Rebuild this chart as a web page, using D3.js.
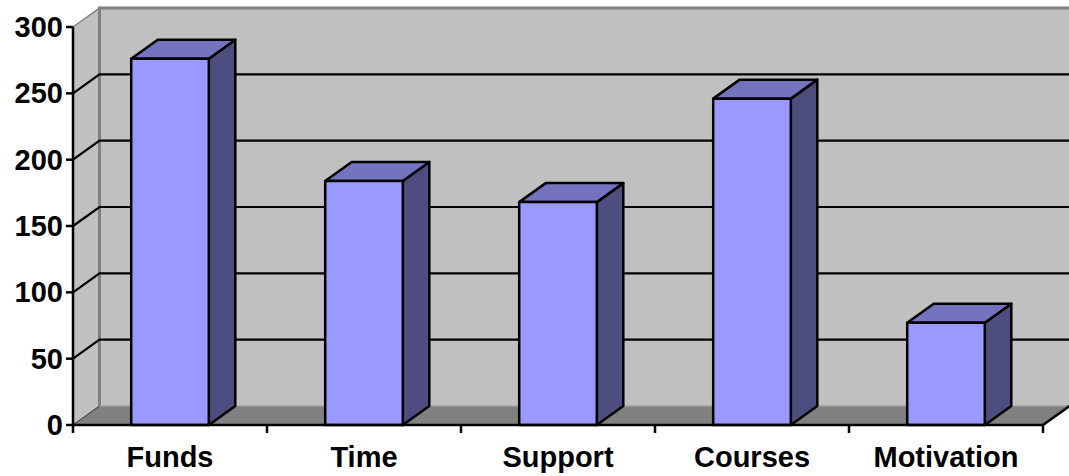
<!DOCTYPE html>
<html>
<head>
<meta charset="utf-8">
<script src="https://cdn.jsdelivr.net/npm/d3@7/dist/d3.min.js"></script>
<style>
  html, body { margin: 0; padding: 0; background: #ffffff; }
  svg { display: block; }
  text { font-family: "Liberation Sans", Arial, sans-serif; font-weight: bold; fill: #000; }
</style>
</head>
<body>
<svg id="chart" width="1069" height="476"></svg>
<script>
// Survey totals per barrier category
const categories = ["Funds", "Time", "Support", "Courses", "Motivation"];
const values = [276, 184, 168, 246, 77];
const yTicks = [0, 50, 100, 150, 200, 250, 300];

const plotLeft = 73, plotRight = 1043, plotBottom = 425, plotTop = 27;
const DX = 26.5, DY = -19;   // depth offset of the 3D box

const svg = d3.select("#chart");

const x = d3.scaleBand()
  .domain(categories)
  .range([plotLeft, plotRight])
  .paddingInner(0.6)
  .paddingOuter(0.3);

const y = d3.scaleLinear().domain([0, 300]).range([plotBottom, plotTop]);

const pts = a => a.map(p => p.join(",")).join(" ");

// Side wall (left)
svg.append("polygon")
  .attr("points", pts([[plotLeft, y(300)], [plotLeft + DX, y(300) + DY], [plotLeft + DX, y(0) + DY], [plotLeft, y(0)]]))
  .attr("fill", "#c0c0c0")
  .attr("stroke", "#808080")
  .attr("stroke-width", 1.5);

// Back wall
svg.append("rect")
  .attr("x", plotLeft + DX)
  .attr("y", y(300) + DY)
  .attr("width", plotRight - plotLeft)
  .attr("height", y(0) - y(300))
  .attr("fill", "#c0c0c0");
svg.append("path")
  .attr("d", `M${plotLeft + DX},${y(0) + DY} V${y(300) + DY} H${plotRight + DX}`)
  .attr("fill", "none")
  .attr("stroke", "#808080")
  .attr("stroke-width", 3);

// Floor
svg.append("polygon")
  .attr("points", pts([[plotLeft, y(0)], [plotRight, y(0)], [plotRight + DX, y(0) + DY], [plotLeft + DX, y(0) + DY]]))
  .attr("fill", "#808080");
svg.append("line")
  .attr("x1", plotLeft + DX).attr("x2", plotRight + DX)
  .attr("y1", y(0) + DY).attr("y2", y(0) + DY)
  .attr("stroke", "#a0a0a0").attr("stroke-width", 1.5);

// Gridlines: diagonal across the side wall, then along the back wall
const grid = svg.append("g").attr("fill", "none");
yTicks.filter(v => v > 0 && v < 300).forEach(v => {
  grid.append("path")
    .attr("d", `M${plotLeft},${y(v)} L${plotLeft + DX},${y(v) + DY} H${plotRight + DX}`)
    .attr("stroke", "#000")
    .attr("stroke-width", 2.2);
});
grid.append("line")
  .attr("x1", plotLeft).attr("y1", y(0))
  .attr("x2", plotLeft + DX).attr("y2", y(0) + DY)
  .attr("stroke", "#404040").attr("stroke-width", 1);

// Bars
const bars = svg.append("g")
  .selectAll("g")
  .data(categories.map((c, i) => ({ c, v: values[i] })))
  .join("g")
  .attr("stroke", "#000")
  .attr("stroke-width", 2.5)
  .attr("stroke-linejoin", "round");

bars.append("polygon") // right side
  .attr("fill", "#4d4d80")
  .attr("points", d => {
    const x1 = x(d.c) + x.bandwidth();
    return pts([[x1, y(d.v)], [x1 + DX, y(d.v) + DY], [x1 + DX, y(0) + DY], [x1, y(0)]]);
  });
bars.append("polygon") // top
  .attr("fill", "#7373bf")
  .attr("points", d => {
    const x0 = x(d.c), x1 = x0 + x.bandwidth();
    return pts([[x0, y(d.v)], [x0 + DX, y(d.v) + DY], [x1 + DX, y(d.v) + DY], [x1, y(d.v)]]);
  });
bars.append("rect") // front
  .attr("fill", "#9999ff")
  .attr("x", d => x(d.c))
  .attr("y", d => y(d.v))
  .attr("width", x.bandwidth())
  .attr("height", d => y(0) - y(d.v));

// Axes
const axes = svg.append("g").attr("stroke", "#000").attr("stroke-width", 2.5).attr("fill", "none");
axes.append("line").attr("x1", plotLeft).attr("x2", plotLeft).attr("y1", y(300)).attr("y2", y(0) + 1);
axes.append("line").attr("x1", plotLeft).attr("x2", plotRight).attr("y1", y(0)).attr("y2", y(0));
axes.append("line").attr("x1", plotRight).attr("y1", y(0)).attr("x2", plotRight + DX).attr("y2", y(0) + DY);

yTicks.forEach(v => {
  axes.append("line").attr("x1", plotLeft - 7).attr("x2", plotLeft).attr("y1", y(v)).attr("y2", y(v));
});
const step = x.step();
d3.range(categories.length + 1).forEach(i => {
  const xx = plotLeft + i * step;
  axes.append("line").attr("x1", xx).attr("x2", xx).attr("y1", y(0)).attr("y2", y(0) + 8);
});

// Labels
svg.append("g")
  .selectAll("text")
  .data(yTicks)
  .join("text")
  .attr("x", plotLeft - 10)
  .attr("y", d => y(d) + 10)
  .attr("text-anchor", "end")
  .attr("font-size", 29)
  .text(d => d);

svg.append("g")
  .selectAll("text")
  .data(categories)
  .join("text")
  .attr("x", d => x(d) + x.bandwidth() / 2)
  .attr("y", 467)
  .attr("text-anchor", "middle")
  .attr("font-size", 29)
  .text(d => d);
</script>
</body>
</html>
